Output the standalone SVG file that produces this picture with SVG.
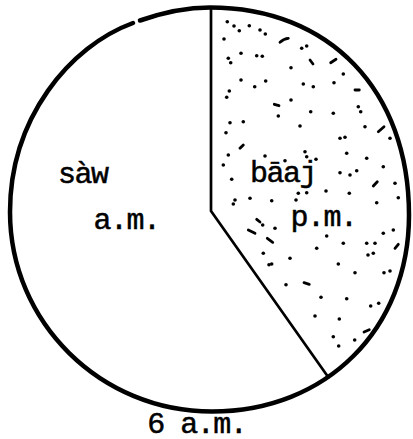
<svg xmlns="http://www.w3.org/2000/svg" width="413" height="439" viewBox="0 0 413 439">
<style>
.ln{fill:none;stroke:#000;stroke-linecap:round;stroke-linejoin:round}
.t{font-family:"Liberation Mono","DejaVu Sans Mono",monospace;font-size:30px;letter-spacing:-1.5px;fill:#000;stroke:#000;stroke-width:0.5px}
.d{fill:#000}
.ds{stroke:#000;stroke-width:2.8;stroke-linecap:round;fill:none}
</style>
<rect width="413" height="439" fill="#fff"/>
<g id="stipple">
<g class="d">
<circle cx="227.3" cy="21.7" r="1.8"/><circle cx="234" cy="26" r="1.8"/><circle cx="239.3" cy="30.7" r="1.8"/>
<circle cx="249.3" cy="25.7" r="1.8"/><circle cx="260" cy="30" r="1.8"/><circle cx="265.3" cy="34" r="1.8"/>
<circle cx="224" cy="39" r="1.8"/><circle cx="301.7" cy="48.3" r="1.8"/><circle cx="306.7" cy="46" r="1.8"/>
<circle cx="228.3" cy="58.3" r="1.8"/><circle cx="230.7" cy="62.7" r="1.8"/><circle cx="241" cy="53.3" r="1.8"/>
<circle cx="256.7" cy="55.7" r="1.8"/><circle cx="262.3" cy="56.3" r="1.8"/><circle cx="291" cy="67.7" r="1.8"/>
<circle cx="343.3" cy="74" r="1.8"/><circle cx="241" cy="80" r="1.8"/><circle cx="265.7" cy="81" r="1.8"/>
<circle cx="254.7" cy="86.7" r="1.8"/><circle cx="303.3" cy="84" r="1.8"/><circle cx="313.3" cy="86.7" r="1.8"/>
<circle cx="334" cy="82.7" r="1.8"/><circle cx="229.3" cy="91" r="1.8"/><circle cx="226.7" cy="97.3" r="1.8"/>
<circle cx="291" cy="100" r="1.8"/><circle cx="278.3" cy="116" r="1.8"/><circle cx="310.7" cy="111.7" r="1.8"/>
<circle cx="333.3" cy="113.3" r="1.8"/><circle cx="358.3" cy="106.7" r="1.8"/><circle cx="360.7" cy="111.7" r="1.8"/>
<circle cx="230" cy="122.7" r="1.8"/><circle cx="243.3" cy="121.7" r="1.8"/><circle cx="300" cy="126" r="1.8"/>
<circle cx="365" cy="126.7" r="1.8"/><circle cx="226" cy="132.7" r="1.8"/><circle cx="340" cy="138.3" r="1.8"/>
<circle cx="345" cy="137.3" r="1.8"/><circle cx="390" cy="138.3" r="1.8"/><circle cx="228.3" cy="155" r="1.8"/>
<circle cx="265" cy="156" r="1.8"/><circle cx="305" cy="151.7" r="1.8"/><circle cx="306.7" cy="156.7" r="1.8"/>
<circle cx="316" cy="159.3" r="1.8"/><circle cx="346.7" cy="153.3" r="1.8"/><circle cx="366.7" cy="158.3" r="1.8"/>
<circle cx="223.3" cy="165" r="1.8"/><circle cx="285" cy="160.7" r="1.8"/><circle cx="340" cy="172.7" r="1.8"/>
<circle cx="350" cy="175" r="1.8"/><circle cx="356.7" cy="170.7" r="1.8"/><circle cx="383.3" cy="166.7" r="1.8"/>
<circle cx="231.7" cy="179.3" r="1.8"/><circle cx="395" cy="183.3" r="1.8"/><circle cx="326" cy="191" r="1.8"/>
<circle cx="349.3" cy="193.3" r="1.8"/><circle cx="298.3" cy="193.3" r="1.8"/><circle cx="306.7" cy="192.7" r="1.8"/>
<circle cx="235" cy="200" r="1.8"/><circle cx="233.3" cy="204" r="1.8"/><circle cx="250" cy="198.3" r="1.8"/>
<circle cx="271.7" cy="200.7" r="1.8"/><circle cx="296" cy="200" r="1.8"/><circle cx="376.7" cy="202.7" r="1.8"/>
<circle cx="398.3" cy="197.7" r="1.8"/><circle cx="262.7" cy="225" r="1.8"/><circle cx="275" cy="228.3" r="1.8"/>
<circle cx="393.3" cy="230" r="1.8"/><circle cx="383.3" cy="233.3" r="1.8"/><circle cx="326.7" cy="236" r="1.8"/>
<circle cx="366.7" cy="243.3" r="1.8"/><circle cx="375" cy="243.3" r="1.8"/><circle cx="316.7" cy="248.3" r="1.8"/>
<circle cx="343.3" cy="243.3" r="1.8"/><circle cx="263.3" cy="253.3" r="1.8"/><circle cx="290" cy="258.3" r="1.8"/>
<circle cx="373.3" cy="253.3" r="1.8"/><circle cx="368" cy="255" r="1.8"/><circle cx="271.7" cy="264" r="1.8"/>
<circle cx="269" cy="264.7" r="1.8"/><circle cx="338.3" cy="264" r="1.8"/><circle cx="355" cy="272.7" r="1.8"/>
<circle cx="384" cy="272.7" r="1.8"/><circle cx="390" cy="271" r="1.8"/><circle cx="286" cy="284.7" r="1.8"/>
<circle cx="321" cy="297.3" r="1.8"/><circle cx="346.7" cy="298.7" r="1.8"/><circle cx="370.7" cy="306" r="1.8"/>
<circle cx="378.7" cy="303.3" r="1.8"/><circle cx="315" cy="316" r="1.8"/><circle cx="339.3" cy="319" r="1.8"/>
<circle cx="333.3" cy="336.7" r="1.8"/><circle cx="354.7" cy="340" r="1.8"/><circle cx="338.7" cy="346" r="1.8"/>
</g>
<g class="ds">
<path d="M280 42.3 Q284 38.5 288.3 38.3"/>
<line x1="310" y1="60" x2="313" y2="64"/>
<line x1="330.7" y1="62.7" x2="336" y2="59.3"/>
<line x1="355" y1="90" x2="359.3" y2="90"/>
<line x1="274.3" y1="104.3" x2="279" y2="105.7"/>
<line x1="378.3" y1="131.7" x2="384" y2="126.7"/>
<line x1="240" y1="148.3" x2="243.3" y2="145"/>
<line x1="373.3" y1="186" x2="377.3" y2="181.7"/>
<line x1="248.3" y1="230" x2="255" y2="233.3"/>
<line x1="267.3" y1="238.3" x2="272.7" y2="242.3"/>
<line x1="395" y1="248.3" x2="398.3" y2="244.3"/>
<line x1="256.7" y1="219.3" x2="260" y2="222"/>
<line x1="304" y1="282.7" x2="309.3" y2="284.3"/>
<line x1="364" y1="332" x2="369.3" y2="329.7"/>
</g>
</g>
<g id="outline">
<path class="ln" stroke-width="4.5" d="M140 20.5 C163 12.5 188 7.5 210 7.5 C329.4 7.5 409 90.5 409 215 C409 329 326.3 411.5 212 411.5 C100.4 411.5 10 322.2 10 212 C10 118 70 46 133 23"/>
</g>
<g id="divider">
<path class="ln" stroke-width="2.7" d="M211 8 L211 211 L328.5 377.5"/>
</g>
<g id="labels">
<text class="t" x="58" y="183">sàw</text>
<text class="t" x="93.5" y="229">a.m.</text>
<text class="t" x="250" y="182">bāaj</text>
<text class="t" x="290.5" y="226">p.m.</text>
<text class="t" x="147.3" y="433">6 a.m.</text>
</g>
</svg>
